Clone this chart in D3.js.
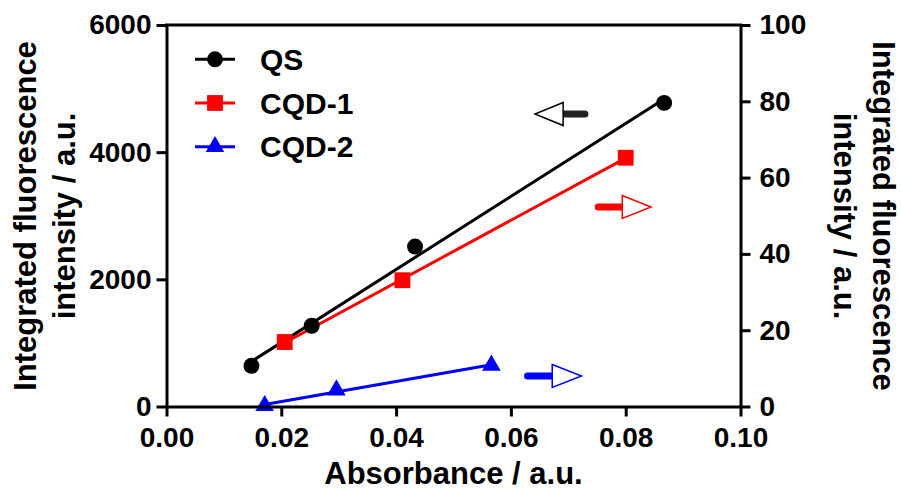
<!DOCTYPE html>
<html>
<head>
<meta charset="utf-8">
<script src="https://cdn.jsdelivr.net/npm/d3@7"></script>
<style>
  body { margin: 0; background: #fff; }
  text { font-family: "Liberation Sans", Arial, sans-serif; font-weight: bold; }
</style>
</head>
<body>
<div id="chart"></div>
<script>
// Data
const seriesNames = ["QS", "CQD-1", "CQD-2"];
const qsAbs = [0.0148, 0.0253, 0.0433, 0.0867];
const qsInt = [640, 1270, 2515, 4775];          // sumbu kiri
const cqd1Abs = [0.0206, 0.0411, 0.0800];
const cqd1Int = [16.9, 33.1, 65.2];             // sumbu kanan
const cqd2Abs = [0.0171, 0.0296, 0.0566];
const cqd2Int = [0.2, 4.3, 10.8];               // sumbu kanan
const xTicks = [0, 0.02, 0.04, 0.06, 0.08, 0.10];
const leftTicks = [0, 2000, 4000, 6000];
const rightTicks = [0, 20, 40, 60, 80, 100];

// Dimensi chart
const W = 901, H = 490;
const margin = { top: 25, right: 160.5, bottom: 83.5, left: 166.5 };
const width = W - margin.left - margin.right;
const height = H - margin.top - margin.bottom;

const x = d3.scaleLinear().domain([0, 0.10]).range([0, width]);
const yL = d3.scaleLinear().domain([0, 6000]).range([height, 0]);
const yR = d3.scaleLinear().domain([0, 100]).range([height, 0]);

const svg = d3.select("#chart").append("svg")
  .attr("width", W).attr("height", H);
const g = svg.append("g")
  .attr("transform", "translate(" + margin.left + "," + margin.top + ")");

// regresi linear sederhana
function fit(xs, ys) {
  const mx = d3.mean(xs), my = d3.mean(ys);
  let sxy = 0, sxx = 0;
  xs.forEach((v, i) => { sxy += (v - mx) * (ys[i] - my); sxx += (v - mx) * (v - mx); });
  const b = sxy / sxx, a = my - b * mx;
  const x0 = d3.min(xs), x1 = d3.max(xs);
  return [[x0, a + b * x0], [x1, a + b * x1]];
}

const series = [
  { name: seriesNames[0], xs: qsAbs, ys: qsInt, y: yL, color: "#000", sym: d3.symbolCircle, size: 200 },
  { name: seriesNames[1], xs: cqd1Abs, ys: cqd1Int, y: yR, color: "#ff0000", sym: d3.symbolSquare, size: 250 },
  { name: seriesNames[2], xs: cqd2Abs, ys: cqd2Int, y: yR, color: "#0000ff", sym: d3.symbolTriangle, size: 150 }
];

// garis regresi
series.forEach(s => {
  g.append("path")
    .datum(fit(s.xs, s.ys))
    .attr("fill", "none")
    .attr("stroke", s.color)
    .attr("stroke-width", 3)
    .attr("d", d3.line().x(d => x(d[0])).y(d => s.y(d[1])));
});

// titik data
series.forEach(s => {
  g.selectAll(null)
    .data(s.xs.map((v, i) => [v, s.ys[i]]))
    .enter().append("path")
    .attr("transform", d => "translate(" + x(d[0]) + "," + s.y(d[1]) + ")")
    .attr("d", d3.symbol().type(s.sym).size(s.size))
    .attr("fill", s.color);
});

// sumbu
const fontTick = "28px";
const xAxis = g.append("g")
  .attr("transform", "translate(0," + height + ")")
  .call(d3.axisBottom(x).tickValues(xTicks).tickFormat(d3.format(".2f")).tickSize(10).tickPadding(11).tickSizeOuter(0));
const lAxis = g.append("g")
  .call(d3.axisLeft(yL).tickValues(leftTicks).tickFormat(d3.format("d")).tickSize(10).tickPadding(5).tickSizeOuter(0));
const rAxis = g.append("g")
  .attr("transform", "translate(" + width + ",0)")
  .call(d3.axisRight(yR).tickValues(rightTicks).tickFormat(d3.format("d")).tickSize(10).tickPadding(9).tickSizeOuter(0));
[xAxis, lAxis, rAxis].forEach(a => {
  a.selectAll("path, line").attr("stroke", "#000").attr("stroke-width", 3);
  a.selectAll("text").style("font-size", fontTick).attr("fill", "#000");
});

// garis atas bingkai
g.append("line")
  .attr("x1", -1.5).attr("x2", width + 1.5)
  .attr("y1", 0).attr("y2", 0)
  .attr("stroke", "#000").attr("stroke-width", 3);

// judul sumbu x
svg.append("text")
  .attr("x", margin.left + width / 2)
  .attr("y", 484)
  .attr("text-anchor", "middle")
  .style("font-size", "31px")
  .text("Absorbance / a.u.");

// judul sumbu y kiri
const leftTitle = svg.append("text")
  .attr("transform", "translate(0,216) rotate(-90)")
  .attr("text-anchor", "middle")
  .style("font-size", "31px");
leftTitle.append("tspan").attr("x", 0).attr("y", 35.5).text("Integrated fluorescence");
leftTitle.append("tspan").attr("x", 0).attr("y", 75).text("intensity / a.u.");

// judul sumbu y kanan
const rightTitle = svg.append("text")
  .attr("transform", "translate(0,216) rotate(90)")
  .attr("text-anchor", "middle")
  .style("font-size", "31px");
rightTitle.append("tspan").attr("x", 0).attr("y", -873).text("Integrated fluorescence");
rightTitle.append("tspan").attr("x", 0).attr("y", -834).text("intensity / a.u.");

// legenda
const legend = svg.append("g");
series.forEach((s, i) => {
  const ly = 59.3 + i * 43.7;
  legend.append("line")
    .attr("x1", 195).attr("x2", 235).attr("y1", ly).attr("y2", ly)
    .attr("stroke", s.color).attr("stroke-width", 3);
  legend.append("path")
    .attr("transform", "translate(215," + ly + ")")
    .attr("d", d3.symbol().type(s.sym).size(s.size))
    .attr("fill", s.color);
  legend.append("text")
    .attr("x", 260).attr("y", ly + 10.5)
    .style("font-size", "30px")
    .text(s.name);
});

// panah penunjuk sumbu (koordinat data)
const arrows = [
  { tail: 0.0729, base: 0.0691, tip: 0.0642, v: 4600, y: yL, color: "#222", head: "#000" },
  { tail: 0.0752, base: 0.0794, tip: 0.0844, v: 52.3, y: yR, color: "#ff0000", head: "#ff0000" },
  { tail: 0.0629, base: 0.0672, tip: 0.0723, v: 8.0, y: yR, color: "#0000ff", head: "#0000ff" }
];
arrows.forEach(a => {
  const yy = a.y(a.v);
  g.append("line")
    .attr("x1", x(a.tail)).attr("x2", x(a.base))
    .attr("y1", yy).attr("y2", yy)
    .attr("stroke", a.color).attr("stroke-width", 7)
    .attr("stroke-linecap", "round");
  g.append("path")
    .attr("d", "M" + x(a.base) + "," + (yy - 11.5) + "L" + x(a.tip) + "," + yy + "L" + x(a.base) + "," + (yy + 11.5) + "Z")
    .attr("fill", "#fff")
    .attr("stroke", a.head)
    .attr("stroke-width", 1.5);
});
</script>
</body>
</html>
